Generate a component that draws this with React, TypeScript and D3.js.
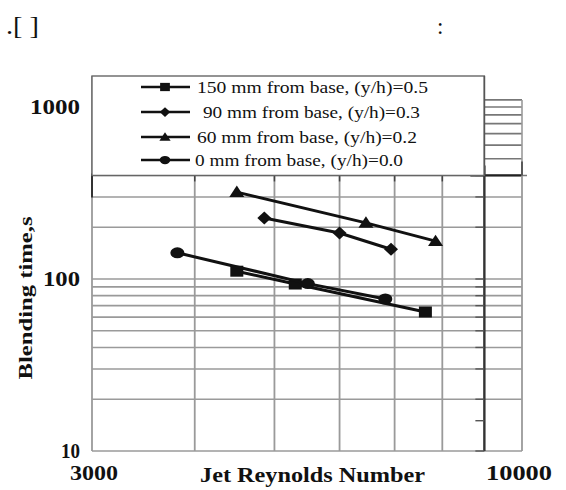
import React from "react";
import * as d3 from "d3";

const seriesNames = [
  "150 mm from base, (y/h)=0.5",
  " 90 mm from base, (y/h)=0.3",
  "60 mm from base, (y/h)=0.2",
  "0 mm from base, (y/h)=0.0",
];
const seriesShapes = ["square", "diamond", "triangle", "circle"];
const reSquare150 = [4500, 5300, 7630];
const tSquare150 = [111, 93.5, 64.3];
const reDiamond90 = [4860, 6000, 6930];
const tDiamond90 = [226, 185, 149];
const reTriangle60 = [4500, 6460, 7850];
const tTriangle60 = [320, 212, 166];
const reCircle0 = [3810, 5490, 6820];
const tCircle0 = [142, 94, 76.5];

const xTickLabels = ["3000", "10000"];
const yTickValues = [10, 100, 1000];
const yTickLabels = ["10", "100", "1000"];
const xGrid = [4000, 5000, 6000, 7000, 8000, 10000];
const yGrid = [20, 30, 40, 50, 60, 70, 80, 90, 100, 200, 300];
const yTop = 400;
const yBoxGrid = [500, 600, 700, 800, 900, 1000, 1100];

const W = 566, H = 490;
const x = d3.scaleLog().domain([3000, 10000]).range([92, 522]);
const y = d3.scaleLog().domain([10, 1000]).range([451, 107]);

const SERIF = "'Liberation Serif', 'Times New Roman', 'DejaVu Serif', serif";

function Marker({ shape, cx, cy, s }: { shape: string; cx: number; cy: number; s: number }) {
  if (shape === "square") {
    return <rect x={cx - 6.5 * s} y={cy - 5.5 * s} width={13 * s} height={11 * s} fill="#111" />;
  }
  if (shape === "diamond") {
    const w = 7 * s, h = 6.5 * s;
    return <path d={`M${cx},${cy - h}L${cx + w},${cy}L${cx},${cy + h}L${cx - w},${cy}Z`} fill="#111" />;
  }
  if (shape === "triangle") {
    const w = 7.5 * s, h = 6.5 * s;
    return <path d={`M${cx},${cy - h}L${cx + w},${cy + h * 0.75}L${cx - w},${cy + h * 0.75}Z`} fill="#111" />;
  }
  return <ellipse cx={cx} cy={cy} rx={7 * s} ry={5.5 * s} fill="#111" />;
}

export default function App() {
  const series = [
    { re: reSquare150, t: tSquare150 },
    { re: reDiamond90, t: tDiamond90 },
    { re: reTriangle60, t: tTriangle60 },
    { re: reCircle0, t: tCircle0 },
  ];
  const line = d3.line<[number, number]>().x((d) => x(d[0])).y((d) => y(d[1]));
  const x0 = x(3000), x9 = x(9000), x10 = x(10000);
  const yb = y(10), yt = y(yTop);
  const legTop = 76;
  const grid = "#9a9a9a";
  const legendRows = [87, 112, 137, 160];
  const legendTextX = [197, 203, 197, 195];
  const legendTextLen = [231, 217, 220, 208];
  const yLabelLen = [19, 37, 50];

  return (
    <svg width={W} height={H} style={{ position: "absolute", left: 0, top: 0, background: "#fff" }}>
      <rect x={0} y={0} width={W} height={H} fill="#fff" />
      <text x={6} y={34} fontFamily={SERIF} fontSize={25} fill="#111" textLength={33} lengthAdjust="spacingAndGlyphs">.[ ]</text>
      <text x={437} y={34} fontFamily={SERIF} fontSize={23} fill="#111">:</text>

      {/* horizontal grid */}
      {yGrid.map((v) => (
        <line key={"h" + v} x1={x0} x2={x10} y1={y(v)} y2={y(v)} stroke={grid} strokeWidth={1.6} />
      ))}
      <line x1={x0} x2={x10 + 5} y1={yt} y2={yt} stroke="#777" strokeWidth={1.6} />
      <line x1={x9 - 14} x2={x10} y1={yt} y2={yt} stroke="#222" strokeWidth={2.2} />
      <line x1={x0} x2={x10} y1={yb} y2={yb} stroke={grid} strokeWidth={1.6} />
      {/* vertical grid */}
      {xGrid.map((v) => (
        <line key={"v" + v} x1={x(v)} x2={x(v)} y1={yt} y2={yb} stroke={grid} strokeWidth={1.8} />
      ))}
      {xGrid.slice(0, 5).map((v) => (
        <line key={"vt" + v} x1={x(v)} x2={x(v)} y1={yt} y2={yt + 6} stroke="#444" strokeWidth={1.5} />
      ))}
      <line x1={x0} x2={x0} y1={legTop} y2={yb} stroke={grid} strokeWidth={1.8} />
      <line x1={x0} x2={x0} y1={yt - 2} y2={yt + 22} stroke="#333" strokeWidth={2} />
      <line x1={x9} x2={x9} y1={yt - 10} y2={yb} stroke="#333" strokeWidth={2.4} />
      {[...yGrid, 10, 400, 15].map((v) => (
        <line key={"tk" + v} x1={x9 - 9} x2={x9} y1={y(v)} y2={y(v)} stroke="#555" strokeWidth={1.4} />
      ))}

      {/* upper-right small box */}
      {yBoxGrid.map((v) => (
        <line key={"b" + v} x1={x9} x2={x10} y1={y(v)} y2={y(v)} stroke="#777" strokeWidth={1.6} />
      ))}
      <line x1={x10} x2={x10} y1={y(1100)} y2={yt} stroke={grid} strokeWidth={1.6} />
      <line x1={x10} x2={x10} y1={yt - 14} y2={yt} stroke="#444" strokeWidth={1.6} />

      {/* legend box */}
      <rect x={x0} y={legTop} width={x9 - x0} height={yt - legTop} fill="#fff" stroke="#666" strokeWidth={1.4} />
      <line x1={x9} x2={x9} y1={legTop} y2={yt} stroke="#555" strokeWidth={1.6} />
      {seriesNames.map((name, i) => (
        <g key={"lg" + i}>
          <line x1={141} x2={190} y1={legendRows[i]} y2={legendRows[i]} stroke="#111" strokeWidth={2.6} />
          <Marker shape={seriesShapes[i]} cx={165} cy={legendRows[i]} s={0.75} />
          <text
            x={legendTextX[i]}
            y={legendRows[i] + 6}
            fontFamily={SERIF}
            fontSize={17.5}
            fill="#111"
            textLength={legendTextLen[i]}
            lengthAdjust="spacingAndGlyphs"
          >
            {name.trim()}
          </text>
        </g>
      ))}

      {/* data */}
      {series.map((s, i) => {
        const pts = s.re.map((r, j) => [r, s.t[j]] as [number, number]);
        return (
          <g key={"s" + i}>
            <path d={line(pts) || ""} fill="none" stroke="#111" strokeWidth={3} />
            {pts.map((p, j) => (
              <Marker key={j} shape={seriesShapes[i]} cx={x(p[0])} cy={y(p[1])} s={1} />
            ))}
          </g>
        );
      })}

      {/* y tick labels */}
      {yTickValues.map((v, i) => (
        <text
          key={"yl" + v}
          x={80 - yLabelLen[i]}
          y={y(v) + 7}
          fontFamily={SERIF}
          fontWeight="bold"
          fontSize={20}
          fill="#111"
          textLength={yLabelLen[i]}
          lengthAdjust="spacingAndGlyphs"
        >
          {yTickLabels[i]}
        </text>
      ))}
      {/* x tick labels */}
      <text x={70} y={480} fontFamily={SERIF} fontWeight="bold" fontSize={20} fill="#111" textLength={48} lengthAdjust="spacingAndGlyphs">
        {xTickLabels[0]}
      </text>
      <text x={486} y={480} fontFamily={SERIF} fontWeight="bold" fontSize={20} fill="#111" textLength={66} lengthAdjust="spacingAndGlyphs">
        {xTickLabels[1]}
      </text>
      {/* axis titles */}
      <text x={200} y={482} fontFamily={SERIF} fontWeight="bold" fontSize={20} fill="#111" textLength={225} lengthAdjust="spacingAndGlyphs">
        Jet Reynolds Number
      </text>
      <text
        transform={`translate(32,298) rotate(-90)`}
        textAnchor="middle"
        fontFamily={SERIF}
        fontWeight="bold"
        fontSize={19}
        fill="#111"
        textLength={163}
        lengthAdjust="spacingAndGlyphs"
      >
        Blending time,s
      </text>
    </svg>
  );
}
